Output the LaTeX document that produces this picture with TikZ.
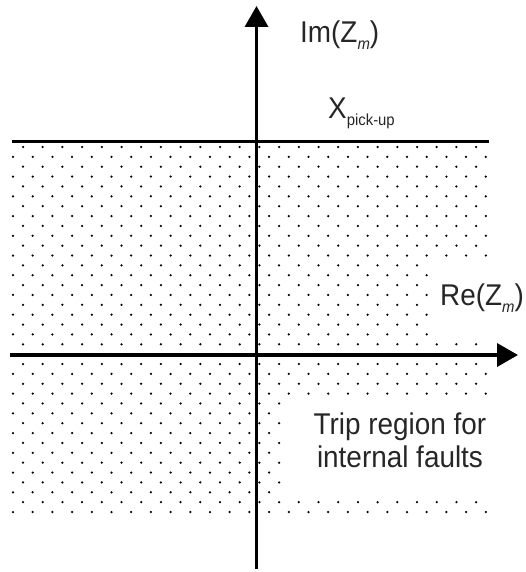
\documentclass[tikz,border=0pt]{standalone}
\usepackage{fontspec}
\setmainfont{Liberation Sans}[FakeStretch=0.93]
\usepackage{graphicx}
\usetikzlibrary{arrows.meta}

\tikzset{
  axisline/.style={line width=3.6pt, -{Triangle[length=21pt,width=23pt]}},
  pickline/.style={line width=2.8pt},
  dotfill/.style={fill=black},
  axislabel/.style={inner sep=0pt, anchor=base west, text=black!85, font=\fontsize{30}{33}\selectfont},
}
\newcommand{\subtxt}[1]{\raisebox{-7pt}{\fontsize{16}{18}\selectfont #1}}

\begin{document}
\begin{tikzpicture}[x=1pt,y=-1pt]
  \useasboundingbox (0,0) rectangle (525,572);

  % Dotted trip area
  \foreach \k in {0,...,37}{
    \pgfmathsetmacro\rowy{147+9.865*\k}
    \pgfmathsetmacro\rowx{mod(\k,2)==0 ? 23 : 13}
    \foreach \j in {0,...,24}{
      \pgfmathsetmacro\dotx{\rowx+19.7*\j}
      \pgfmathtruncatemacro\dothide{(\dotx>487) + (\dotx>432)*(\rowy>260)*(\rowy<340) + (\dotx>284)*(\rowy>399)*(\rowy<498)}
      \ifnum\dothide=0 \fill[dotfill] (\dotx,\rowy) circle[radius=1.25pt]; \fi
    }
  }

  % Axes
  \coordinate (reneg) at (10,355);
  \coordinate (repos) at (518,355);
  \coordinate (imneg) at (256.5,569);
  \coordinate (impos) at (256.5,6);
  \draw[axisline] (reneg) -- (repos);
  \draw[axisline] (imneg) -- (impos);

  % Pick-up reactance
  \coordinate (pickl) at (12,141.7);
  \coordinate (pickr) at (489,141.7);
  \draw[pickline] (pickl) -- (pickr);

  % Labels
  \node[axislabel] (imlabel) at (300,43) {Im(Z\subtxt{\itshape m})};
  \node[axislabel] (relabel) at (440,305) {Re(Z\subtxt{\itshape m})};
  \node[axislabel] (xpick) at (328,119) {X\subtxt{pick-up}};
  \node[axislabel, anchor=north, align=center] (trip) at (400,413) {Trip region for\\internal faults};
\end{tikzpicture}
\end{document}
